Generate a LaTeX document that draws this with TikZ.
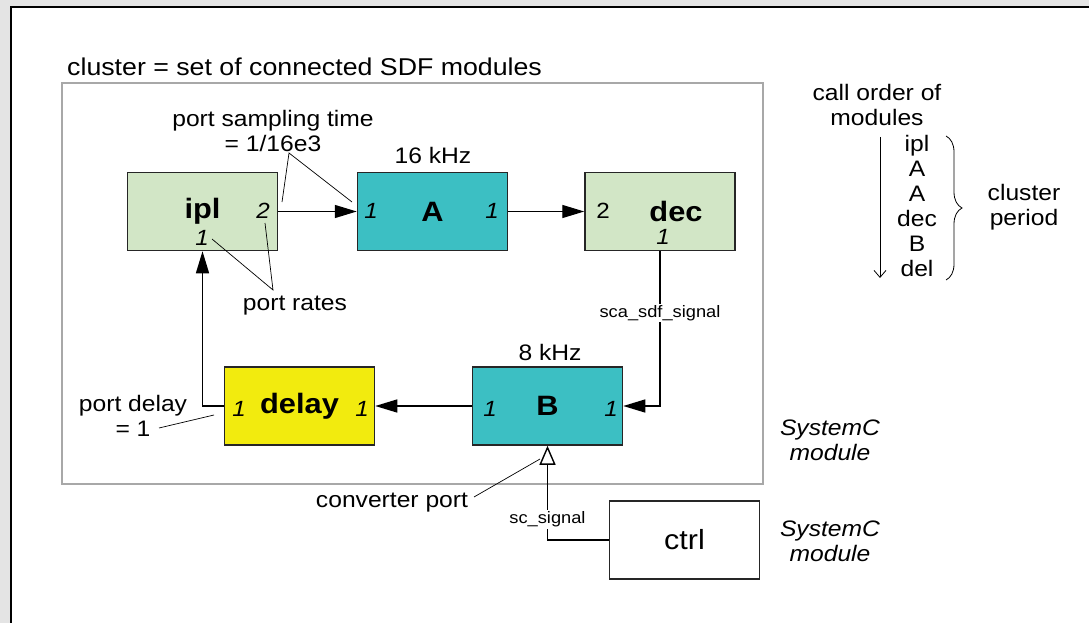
\documentclass[tikz,border=0pt]{standalone}
\usepackage{fontspec}
\setmainfont{Liberation Sans}[FakeStretch=1.1]
\usetikzlibrary{arrows.meta,decorations.pathreplacing}
\definecolor{sdfgreen}{HTML}{D2E6C6}
\definecolor{sdfteal}{HTML}{3CBFC3}
\definecolor{sdfyellow}{HTML}{F2EB0E}
\definecolor{pagegray}{HTML}{E4E4E4}
\definecolor{clustergray}{HTML}{A8A8A8}
\tikzset{
  module/.style={draw=black!85, line width=1.5pt, minimum width=150pt,
                 minimum height=78pt, inner sep=0pt,
                 font=\fontsize{28}{30}\selectfont\bfseries},
  rate/.style={font=\fontsize{22}{24}\selectfont\itshape, inner sep=0pt},
  note/.style={font=\fontsize{22.4}{25}\selectfont, align=center, inner sep=0pt},
  sig/.style={font=\fontsize{16.6}{18}\selectfont, fill=white, inner sep=1.5pt},
  flow/.style={line width=1.4pt, -{Triangle[length=22pt,width=13pt]}},
  pointer/.style={line width=0.7pt},
}
\begin{document}
\begin{tikzpicture}[x=1pt, y=-1pt]
  \useasboundingbox (0,0) rectangle (1089,623);
  % page and frames
  \fill[pagegray] (0,0) rectangle (1089,623);
  \fill[white] (11,7) rectangle (1089,623);
  \draw[line width=2.5pt] (11,630) -- (11,7) -- (1095,7);
  \draw[clustergray, line width=1.2pt] (62,83) rectangle (763,484);
  \node[note, anchor=base west, font=\fontsize{24.3}{26}\selectfont]
       (title) at (67,76) {cluster = set of connected SDF modules};

  % modules
  \node[module, fill=sdfgreen] (ipl) at (202.5,211.5) {ipl};
  \node[module, fill=sdfteal] (A) at (432.5,211.5) {A};
  \node[module, fill=sdfgreen] (dec) at (660,211.5) {\hspace{32pt}dec};
  \node[module, fill=sdfyellow] (delay) at (299.5,406) {delay};
  \node[module, fill=sdfteal] (B) at (547.5,406) {B};
  \node[module, fill=white, font=\fontsize{27.7}{30}\selectfont] (ctrl) at (684.5,540) {ctrl};

  % port rates
  \node[rate] (iplout) at (263,211) {2};
  \node[rate] (iplin) at (202,238) {1};
  \node[rate] (Ain) at (371,211) {1};
  \node[rate] (Aout) at (492,211) {1};
  \node[rate, font=\fontsize{22}{24}\selectfont] (decin) at (603,211) {2};
  \node[rate] (decout) at (663,237) {1};
  \node[rate] (delayin) at (239,409) {1};
  \node[rate] (delayout) at (362,409) {1};
  \node[rate] (Bin) at (490,409) {1};
  \node[rate] (Bout) at (611,409) {1};

  % signals
  \draw[flow] (ipl.east) -- (A.west);
  \draw[flow] (A.east) -- (dec.west);
  \draw[flow] (dec.south) |- (B.east) node[sig, pos=0.2] (sdfsig) {sca\_sdf\_signal};
  \draw[flow] (B.west) -- (delay.east);
  \draw[flow] (delay.west) -| (ipl.south);
  \draw[line width=1.4pt, -{Triangle[open,length=19pt,width=16pt]}]
       (ctrl.west) -| (B.south) node[sig, pos=0.61] (scsig) {sc\_signal};

  % rates and times
  \node[note] (khzA) at (433,155) {16 kHz};
  \node[note] (khzB) at (550,352) {8 kHz};
  \node[note] (sampling) at (273,130.5) {port sampling time\\= 1/16e3};
  \coordinate (samplingtip) at (289,153);
  \coordinate (samplingout) at (282,202);
  \coordinate (samplingin) at (352,202);
  \draw[pointer] (samplingout) -- (samplingtip) -- (samplingin);
  \node[note] (rates) at (295,306) {port rates};
  \coordinate (ratestip) at (273,290);
  \coordinate (ratesin) at (212,239);
  \coordinate (ratesout) at (265,223);
  \draw[pointer] (ratesin) -- (ratestip) -- (ratesout);
  \node[note] (portdelay) at (133,415.5) {port delay\\= 1};
  \coordinate (delayfrom) at (159,428);
  \coordinate (delayto) at (214,415);
  \draw[pointer] (delayfrom) -- (delayto);
  \node[note] (converter) at (392,503) {converter port};
  \coordinate (convfrom) at (474,497);
  \coordinate (convto) at (540,459);
  \draw[pointer] (convfrom) -- (convto);
  \node[note, font=\fontsize{22.4}{25}\selectfont\itshape] (scmodA) at (830,440.5) {SystemC\\module};
  \node[note, font=\fontsize{22.4}{25}\selectfont\itshape] (scmodB) at (830,541.5) {SystemC\\module};

  % call order
  \node[note] (callorder) at (877,104.5) {call order of\\modules};
  \foreach \mod [count=\i] in {ipl,A,A,dec,B,del}
    \node[note, anchor=base] (call\i) at (917,{151+25*(\i-1)}) {\mod};
  \coordinate (ordtop) at (880,137);
  \coordinate (ordbot) at (880,278);
  \draw[line width=0.8pt, -{Straight Barb[length=7pt,width=12pt]}] (ordtop) -- (ordbot);
  \coordinate (bracetop) at (946,136);
  \coordinate (bracebot) at (946,280);
  \draw[line width=0.8pt, decorate, decoration={brace, amplitude=16pt}] (bracetop) -- (bracebot);
  \node[note] (period) at (1024,207.5) {cluster\\period};
\end{tikzpicture}
\end{document}
